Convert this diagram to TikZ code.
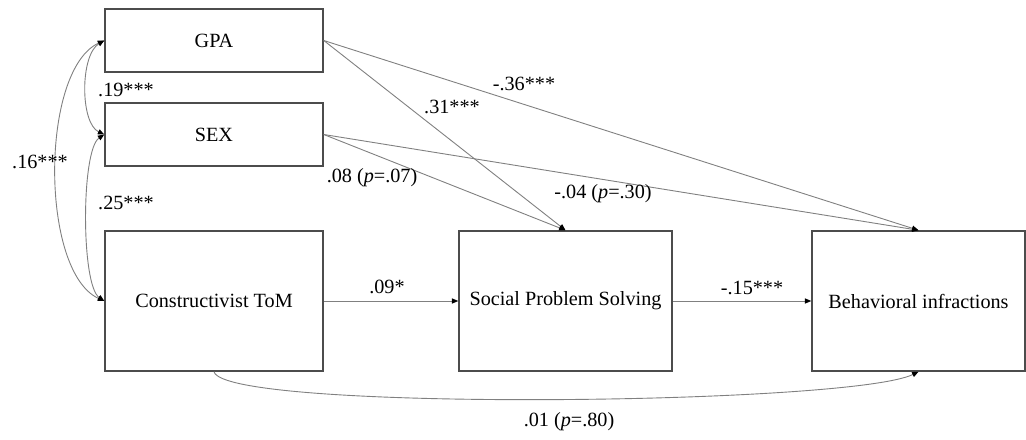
\documentclass[tikz,border=0pt]{standalone}
\usepackage{fontspec}
\setmainfont{Liberation Serif}
\usetikzlibrary{arrows.meta}
\begin{document}
\begin{tikzpicture}[x=0.5pt,y=-0.5pt,
  box/.style={draw=black!70,line width=0.75pt,rectangle,inner sep=0pt,
    font=\fontsize{10.1pt}{12pt}\selectfont},
  tip/.style={Triangle[length=3.2pt,width=2.6pt,color=black]},
  path/.style={draw=black!50,line width=0.45pt,-{Triangle[length=3.2pt,width=2.6pt,color=black]}},
  cov/.style={draw=black!50,line width=0.45pt,
    {Triangle[length=3.2pt,width=2.6pt,color=black]}-{Triangle[length=3.2pt,width=2.6pt,color=black]}},
  lbl/.style={inner sep=0pt,font=\fontsize{10.1pt}{12pt}\selectfont}]
\useasboundingbox (0,0) rectangle (1026,439);

% variables
\node[box,minimum width=109pt,minimum height=31.5pt] (gpa) at (214,40.5) {GPA};
\node[box,minimum width=109pt,minimum height=31.5pt] (sex) at (214,134.5) {SEX};
\node[box,minimum width=109pt,minimum height=70pt] (tom) at (214,301) {Constructivist ToM};
\node[box,minimum width=106.5pt,minimum height=70pt] (sps) at (565.5,301) {Social Problem Solving};
\node[box,minimum width=106.5pt,minimum height=70pt] (bi) at (918.5,301) {Behavioral infractions};

% covariances
\draw[cov] (gpa.west) .. controls (80,55) and (80,123) .. (sex.west);
\draw[cov] (gpa.west) .. controls (40,70) and (40,272) .. (tom.west);
\draw[cov] (sex.west) .. controls (81,150) and (81,285) .. (tom.west);

% regression paths
\draw[path] (gpa.east) -- (sps.north);
\draw[path] (gpa.east) -- (bi.north);
\draw[path] (sex.east) -- (sps.north);
\draw[path] (sex.east) -- (bi.north);
\draw[path] (tom.east) -- (sps.west);
\draw[path] (sps.east) -- (bi.west);
\draw[path] (tom.south) .. controls (225,412) and (850,405) .. (bi.south);

% coefficients
\node[lbl] (l19) at (126,90) {.19***};
\node[lbl] (l16) at (40,162) {.16***};
\node[lbl] (l25) at (126,203) {.25***};
\node[lbl] (l31) at (452,107) {.31***};
\node[lbl] (l36) at (524,84) {-.36***};
\node[lbl] (l08) at (372,178) {.08 (\textit{p}=.07)};
\node[lbl] (l04) at (603,194) {-.04 (\textit{p}=.30)};
\node[lbl] (l09) at (387,287) {.09*};
\node[lbl] (l15) at (752,288) {-.15***};
\node[lbl] (l01) at (569,422) {.01 (\textit{p}=.80)};
\end{tikzpicture}
\end{document}
